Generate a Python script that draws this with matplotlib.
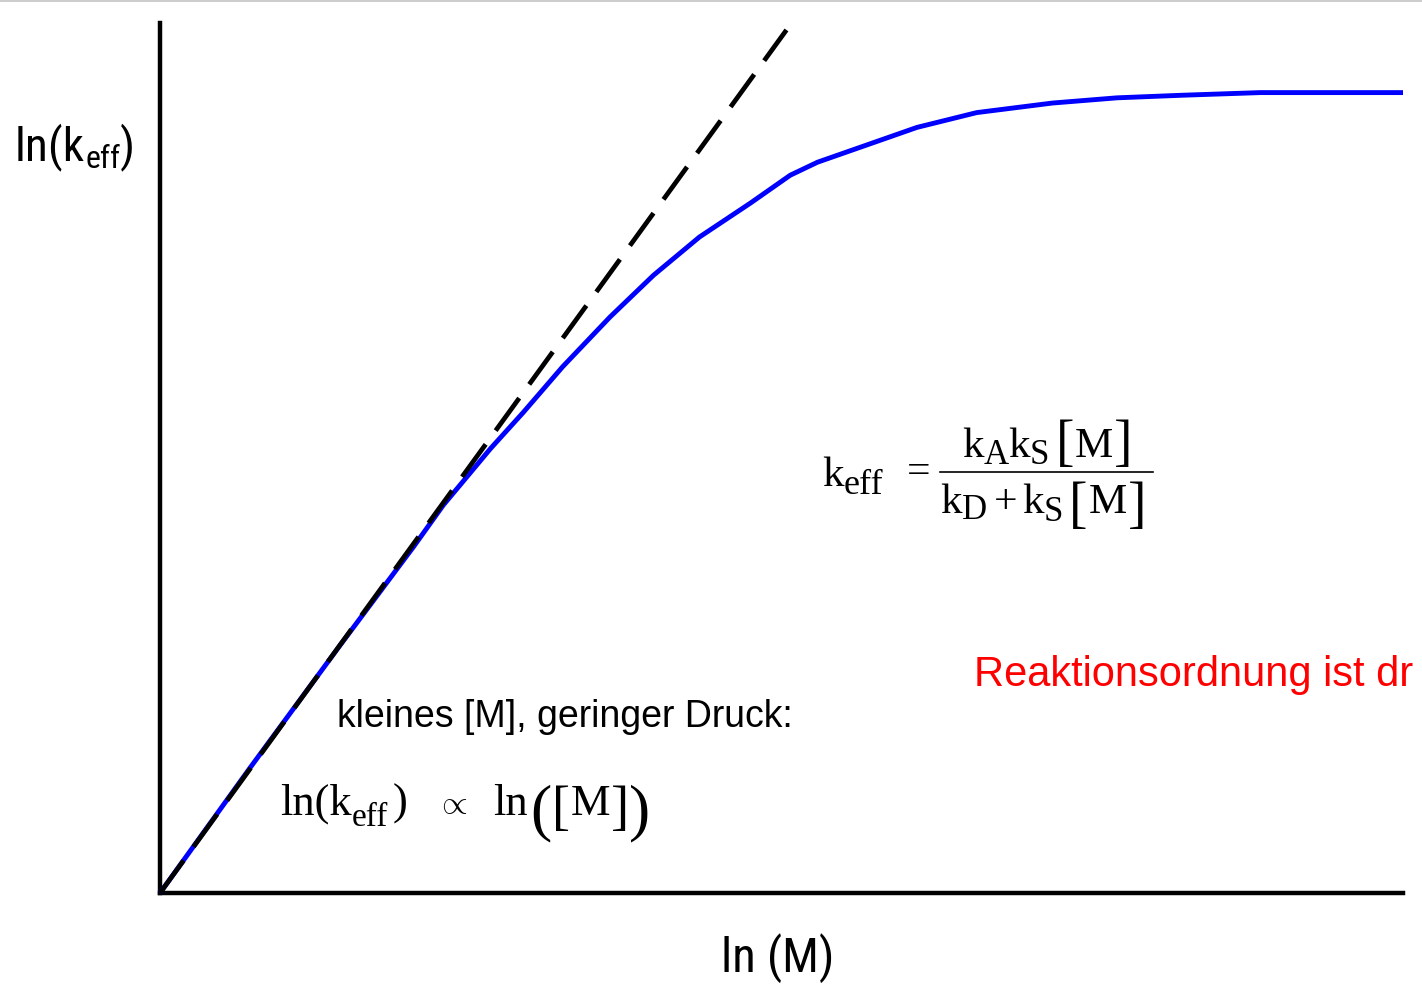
import matplotlib
matplotlib.use("Agg")
import matplotlib.pyplot as plt
from matplotlib import font_manager
from matplotlib.lines import Line2D

# ln(M) positions along the curve and the matching ln(k_eff) values (arbitrary units)
ln_M = [0, 7.2, 14.5, 20.4, 22.8, 26.6, 29.2, 32.4, 36.2, 39.7, 43.4,
        47.5, 50.7, 52.9, 56.9, 60.9, 65.7, 71.8, 77.0, 82.3, 88.5, 100]
ln_keff = [0, 14.3, 28.5, 39.8, 44.6, 51.1, 55.2, 60.5, 66.2, 71.0, 75.4,
           79.3, 82.5, 84.0, 86.0, 88.0, 89.7, 90.8, 91.4, 91.7, 92.0, 92.0]

# low-pressure asymptote: ln(k_eff) proportional to ln([M])
asym_x = [0, 50.4]
asym_y = [0, 99.2]

x_label = "ln (M)"
y_label_main = "ln(k"
y_label_sub = "eff"
low_p_text = "kleines [M], geringer Druck:"
order_text = "Reaktionsordnung ist dr"

installed = {f.name for f in font_manager.fontManager.ttflist}
narrow = None
for cand in ("Liberation Sans Narrow", "Roboto Condensed", "Open Sans Condensed",
             "Arial Narrow"):
    if cand in installed:
        narrow = cand
        break

plt.rcParams["font.family"] = ["Liberation Sans", "DejaVu Sans"]
plt.rcParams["mathtext.fontset"] = "custom"
plt.rcParams["mathtext.rm"] = "Liberation Serif"
plt.rcParams["mathtext.it"] = "Liberation Serif:italic"

SERIF = "Liberation Serif"
W, H = 1422, 994
fig = plt.figure(figsize=(W / 100, H / 100), dpi=100)
fig.patch.set_facecolor("white")
renderer = fig.canvas.get_renderer()


def fx(px):
    return px / W


def fy(py):
    return 1 - py / H


def put(s, x, base, size, family=SERIF, **kw):
    return fig.text(fx(x), fy(base), s, fontsize=size, family=family,
                    ha="left", va="baseline", **kw)


def run(x, parts, family=SERIF):
    """Lay out (text, size, baseline, gap) pieces left to right."""
    for s, size, base, gap in parts:
        x += gap
        t = put(s, x, base, size, family=family)
        x += t.get_window_extent(renderer).width
    return x


ax = fig.add_axes([fx(160), fy(893), fx(1403) - fx(160), fy(23) - fy(893)])
ax.set_xlim(0, 100)
ax.set_ylim(0, 100)
for side in ("top", "right"):
    ax.spines[side].set_visible(False)
for side in ("left", "bottom"):
    ax.spines[side].set_linewidth(3.2)
    ax.spines[side].set_capstyle("projecting")
ax.set_xticks([])
ax.set_yticks([])

ax.plot(ln_M, ln_keff, color="#0000ff", lw=3.5, solid_capstyle="butt",
        solid_joinstyle="round", clip_on=False, zorder=3)
ax.plot(asym_x, asym_y, color="black", lw=3.4, dashes=(8.5, 3.6),
        dash_capstyle="butt", clip_on=False, zorder=4)

# axis titles (condensed sans)
if narrow:
    lab_family, lab_size, sub_size = narrow, 34, 23
else:
    lab_family, lab_size, sub_size = "Liberation Sans", 30, 21
run(15, [(y_label_main, lab_size, 160, 0),
         (y_label_sub, sub_size, 168, 0),
         (")", lab_size, 160, 0)], family=lab_family)
fig.text(fx(778), fy(972), x_label, fontsize=lab_size + 1, family=lab_family,
         ha="center", va="baseline")

# low-pressure annotation
put(low_p_text, 337, 727, 27, family="Liberation Sans")

# ln(k_eff) ∝ ln([M])
run(280, [("ln(k", 32, 815, 0), ("eff", 24, 826, 0), (")", 32, 815, 5)])
fig.text(fx(452), fy(805), r"$\propto$", fontsize=24, ha="center", va="center")
run(493, [("ln", 32, 815, 0), ("(", 46, 828, 3), ("[", 39, 824, 0),
          ("M", 32, 815, 1), ("]", 39, 824, 1), (")", 46, 828, 0)])

# Lindemann expression for k_eff
run(822, [("k", 31, 486, 0), ("eff", 26, 494, 0)])
fig.text(fx(919), fy(473), "=", fontsize=30, family=SERIF,
         ha="center", va="center")
fig.add_artist(Line2D([fx(940), fx(1153)], [fy(472), fy(472)],
                      color="black", lw=1.2))
# numerator
run(962, [("k", 31, 457, 0), ("A", 25, 464, 0), ("k", 31, 457, 0),
          ("S", 25, 464, 0), ("[", 40, 459, 6), ("M", 31, 457, 1),
          ("]", 40, 459, 1)])
# denominator
run(940, [("k", 31, 513, 0), ("D", 25, 519, 0), ("+", 30, 513, 7),
          ("k", 31, 513, 5), ("S", 25, 521, 0), ("[", 40, 521, 6),
          ("M", 31, 513, 1), ("]", 40, 521, 1)])

# pressure-dependence remark
put(order_text, 974, 686, 30, family="Liberation Sans", color="#ff0000")

# thin grey rule along the top edge
fig.add_artist(Line2D([0, 1], [fy(0.6), fy(0.6)], color="#c4c4c4", lw=1.2))

fig.savefig("out.png", dpi=100)
